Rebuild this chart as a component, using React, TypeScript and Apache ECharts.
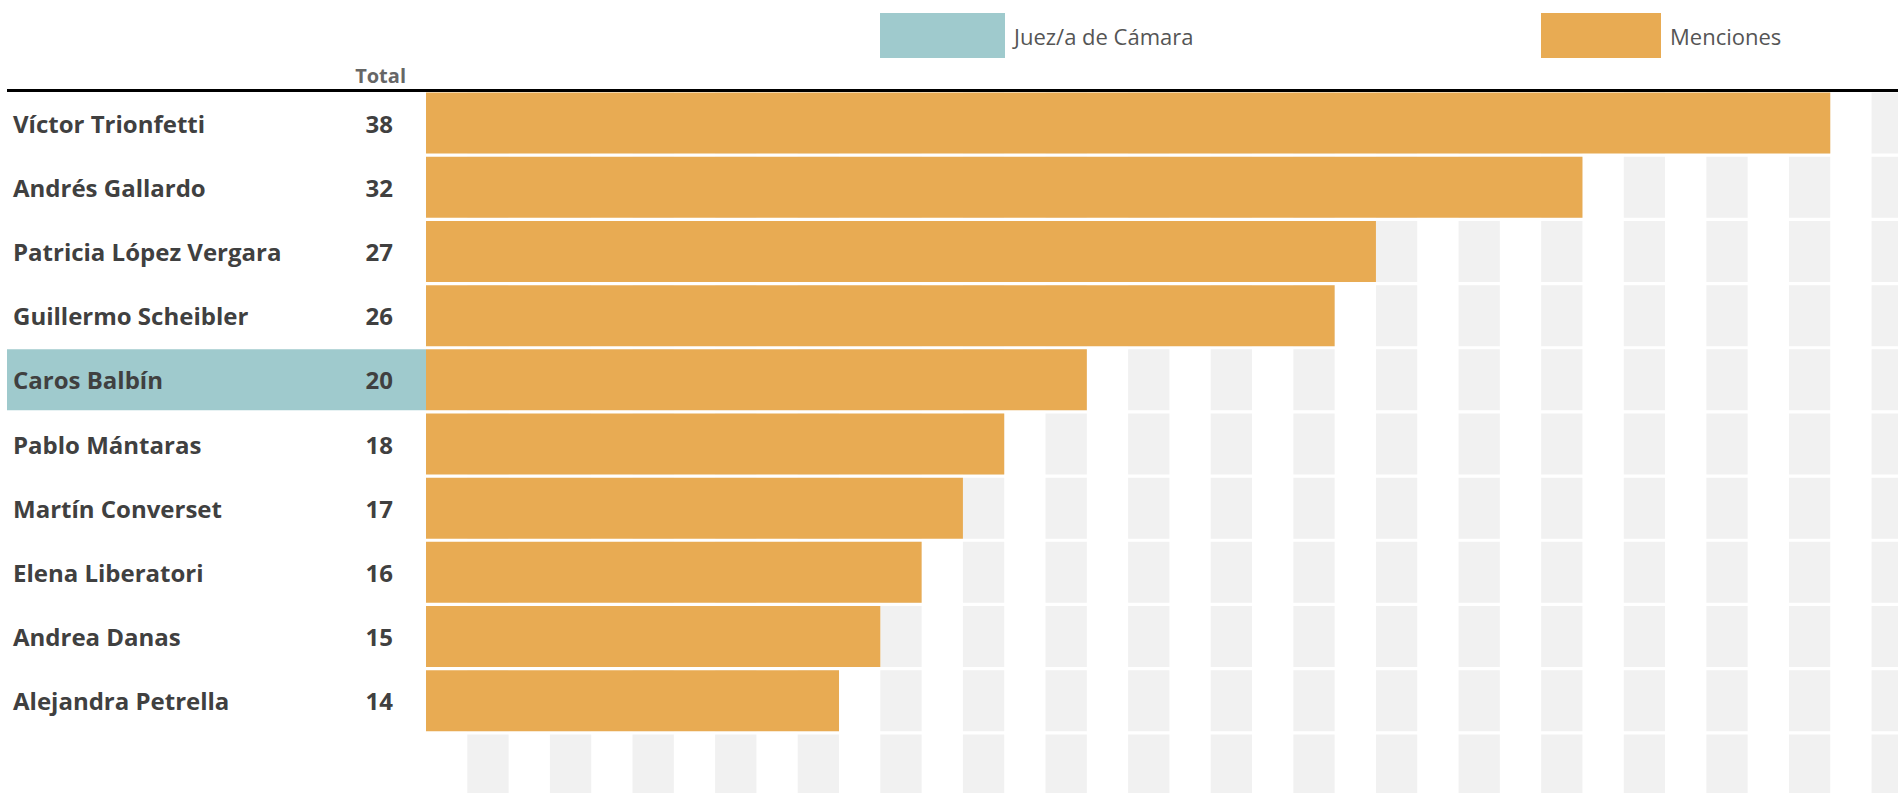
import React, { useEffect, useRef } from "react";
import * as echarts from "echarts";

// ---- data ----
const names: string[] = [
  "Víctor Trionfetti",
  "Andrés Gallardo",
  "Patricia López Vergara",
  "Guillermo Scheibler",
  "Caros Balbín",
  "Pablo Mántaras",
  "Martín Converset",
  "Elena Liberatori",
  "Andrea Danas",
  "Alejandra Petrella",
];
const totals: number[] = [38, 32, 27, 26, 20, 18, 17, 16, 15, 14];
const juecesDeCamara: string[] = ["Caros Balbín"];
const seriesJuez = "Juez/a de Cámara";
const seriesMenciones = "Menciones";
const totalHeader = "Total";

// extra empty row at the bottom (only background stripes)
const rows: string[] = [...names, ""];

// ---- layout / style ----
const X_MIN = 4;
const X_MAX = 39.64;
const BAR_H = 61;
const HL_LEFT = 7;
const ORANGE = "#e8ab53";
const TEAL = "#9fcacd";
const STRIPE = "#f1f1f1";
const TEXT_DARK = "#404040";

export default function App() {
  const ref = useRef<HTMLDivElement>(null);

  useEffect(() => {
    if (!ref.current) return;
    const chart = echarts.init(ref.current, undefined, { renderer: "svg" });

    const labelFont = {
      fontFamily: "Open Sans",
      fontWeight: "bold" as const,
      fontSize: 24,
      color: TEXT_DARK,
    };
    const legendBase = {
      top: 13,
      padding: 0,
      itemHeight: 45,
      icon: "rect",
      selectedMode: false,
      textStyle: {
        fontFamily: "Open Sans",
        fontSize: 22,
        color: "#555",
        padding: [0, 0, 0, 4],
      },
    };

    chart.setOption({
      animation: false,
      backgroundColor: "#ffffff",
      legend: [
        { ...legendBase, left: 880, itemWidth: 125, data: [seriesJuez] },
        { ...legendBase, left: 1541, itemWidth: 120, data: [seriesMenciones] },
      ],
      grid: { left: 426, right: 0, top: 91, height: 706, containLabel: false },
      xAxis: {
        type: "value",
        min: X_MIN,
        max: X_MAX,
        show: true,
        axisLine: { show: false },
        axisTick: { show: false },
        axisLabel: { show: false },
        splitLine: { show: false },
      },
      yAxis: [
        {
          type: "category",
          data: rows,
          inverse: true,
          position: "left",
          z: 5,
          axisLine: { show: false },
          axisTick: { show: false },
          splitLine: { show: false },
          axisLabel: { ...labelFont, align: "left", margin: 413, interval: 0 },
        },
        {
          type: "category",
          data: rows,
          inverse: true,
          position: "left",
          offset: 0,
          z: 5,
          axisLine: { show: false },
          axisTick: { show: false },
          splitLine: { show: false },
          axisLabel: {
            ...labelFont,
            align: "right",
            margin: 33,
            interval: 0,
            formatter: (_v: string, i: number) =>
              i < totals.length ? String(totals[i]) : "",
          },
        },
      ],
      graphic: [
        {
          type: "line",
          shape: { x1: HL_LEFT, y1: 90.5, x2: 1898, y2: 90.5 },
          style: { stroke: "#000", lineWidth: 3 },
          z: 10,
        },
        {
          type: "text",
          x: 406,
          y: 75,
          style: {
            text: totalHeader,
            fontFamily: "Open Sans",
            fontWeight: "bold",
            fontSize: 20,
            fill: "#666",
            textAlign: "right",
            textVerticalAlign: "middle",
          },
        },
      ],
      series: [
        {
          type: "custom",
          name: "stripes",
          z: 1,
          silent: true,
          encode: { x: 0, y: 1 },
          data: rows.map((_, i) => [X_MIN, i]),
          renderItem: (_params: any, api: any) => {
            const r = api.value(1);
            const children: any[] = [];
            for (let k = X_MIN + 1; k < X_MAX; k += 2) {
              const p0 = api.coord([k, r]);
              const p1 = api.coord([Math.min(k + 1, X_MAX), r]);
              children.push({
                type: "rect",
                shape: { x: p0[0], y: p0[1] - BAR_H / 2, width: p1[0] - p0[0], height: BAR_H },
                style: { fill: STRIPE },
              });
            }
            return { type: "group", children };
          },
        },
        {
          type: "custom",
          name: seriesJuez,
          z: 1,
          clip: false,
          itemStyle: { color: TEAL },
          encode: { x: 0, y: 1 },
          data: juecesDeCamara.map((n) => [X_MIN, names.indexOf(n)]),
          renderItem: (_params: any, api: any) => {
            const p = api.coord([api.value(0), api.value(1)]);
            return {
              type: "rect",
              shape: { x: HL_LEFT, y: p[1] - BAR_H / 2, width: p[0] - HL_LEFT, height: BAR_H },
              style: { fill: api.visual("color") },
            };
          },
        },
        {
          type: "bar",
          name: seriesMenciones,
          z: 2,
          barWidth: BAR_H,
          itemStyle: { color: ORANGE },
          data: totals,
        },
      ],
    });

    return () => chart.dispose();
  }, []);

  return (
    <div
      ref={ref}
      style={{ position: "fixed", left: 0, top: 0, width: 1898, height: 800 }}
    />
  );
}
